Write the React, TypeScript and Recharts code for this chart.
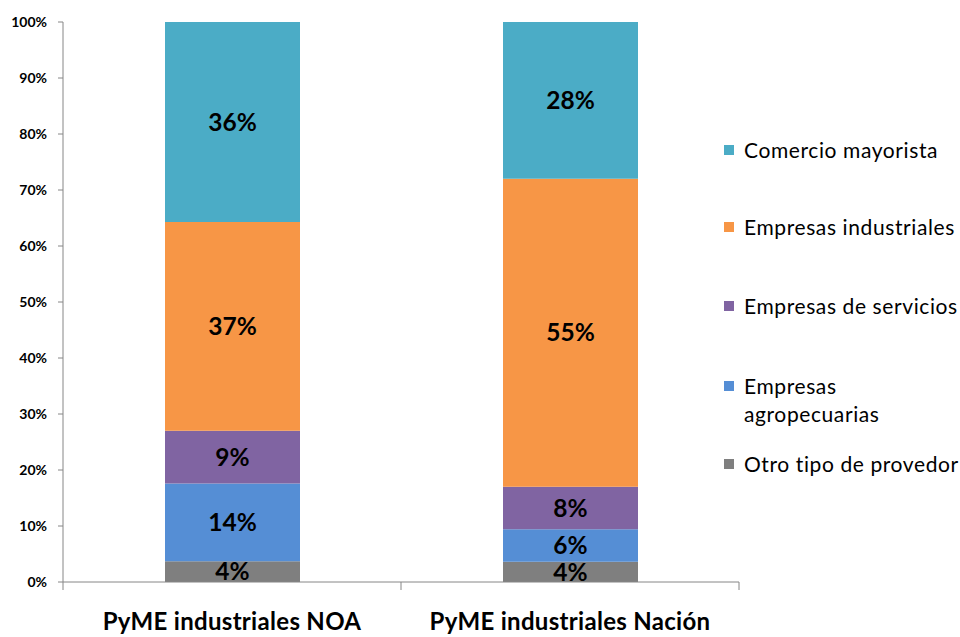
import { BarChart, Bar, XAxis, YAxis, Legend, LabelList } from 'recharts'

const categories = ['PyME industriales NOA', 'PyME industriales Nación']
const seriesKeys = ['otro', 'agro', 'servicios', 'industriales', 'comercio']
const seriesNames = [
    'Otro tipo de provedor',
    'Empresas agropecuarias',
    'Empresas de servicios',
    'Empresas industriales',
    'Comercio mayorista',
]
const otro = [3.7, 3.6]
const agro = [13.9, 5.8]
const servicios = [9.4, 7.6]
const industriales = [37.3, 55.0]
const comercio = [35.7, 28.0]
const yTicks = [0, 0.1, 0.2, 0.3, 0.4, 0.5, 0.6, 0.7, 0.8, 0.9, 1]

const colors = ['#7f7f7f', '#558ed5', '#8064a2', '#f79646', '#4bacc6']
const font = 'Lato, "Open Sans", sans-serif'
const axisColor = '#868686'
const legendTops = [0, 77, 156, 236, 314]

const data = categories.map((name, i) => ({
    name,
    otro: otro[i],
    agro: agro[i],
    servicios: servicios[i],
    industriales: industriales[i],
    comercio: comercio[i],
}))

const CategoryTick = (props: any) => {
    const { x, y, payload, index, visibleTicksCount, width } = props
    const half = (width || 676) / (visibleTicksCount || 2) / 2
    return (
        <g>
            <line x1={x - half} y1={y} x2={x - half} y2={y + 8} stroke={axisColor} />
            {index === visibleTicksCount - 1 &&
                <line x1={x + half} y1={y} x2={x + half} y2={y + 8} stroke={axisColor} />}
            <text x={x} y={y + 48} textAnchor='middle' fill='#000'
                style={{ fontFamily: font, fontSize: 24, fontWeight: 'bold', letterSpacing: 0.3 }}>
                {payload.value}
            </text>
        </g>
    )
}

// top of the legend = top of the stack
const LegendBox = ({ payload }: any) => {
    const items = [...(payload || [])].sort((a: any, b: any) => seriesNames.indexOf(b.value) - seriesNames.indexOf(a.value))
    return (
        <div style={{ position: 'relative', width: 236, height: 360, fontFamily: font }}>
            {items.map((p: any, i: number) => (
                <div key={p.value} style={{ position: 'absolute', left: 0, top: legendTops[i], display: 'flex', alignItems: 'flex-start' }}>
                    <span style={{ display: 'inline-block', width: 10, height: 10, background: p.color, marginTop: 9, marginRight: 10, flexShrink: 0 }} />
                    <span style={{ width: 216, fontSize: 21, letterSpacing: 0.6, lineHeight: '28px', color: '#000' }}>{p.value}</span>
                </div>
            ))}
        </div>
    )
}

export default function App() {
    return (
        <div style={{ position: 'absolute', left: 0, top: 0, background: '#fff' }}>
            <BarChart
                width={960}
                height={637}
                data={data}
                stackOffset='expand'
                margin={{ top: 22, right: 221, bottom: 0, left: 0 }}
            >
                <YAxis
                    type='number'
                    domain={[0, 1]}
                    ticks={yTicks}
                    interval={0}
                    width={63}
                    tickSize={5}
                    tickMargin={11}
                    axisLine={{ stroke: axisColor }}
                    tickLine={{ stroke: axisColor }}
                    tickFormatter={(v) => `${Math.round(v * 100)}%`}
                    tick={{ fill: '#000', fontSize: 14, fontWeight: 'bold', fontFamily: font }}
                />
                <XAxis
                    dataKey='name'
                    height={55}
                    tickSize={0}
                    tickMargin={0}
                    tickLine={false}
                    axisLine={{ stroke: axisColor }}
                    tick={<CategoryTick />}
                    interval={0}
                />
                <Legend
                    layout='horizontal'
                    verticalAlign='middle'
                    align='center'
                    content={<LegendBox />}
                    wrapperStyle={{ left: 724, top: 136, width: 236 }}
                />
                {seriesKeys.map((k, i) =>
                    <Bar key={k} dataKey={k} name={seriesNames[i]} stackId='a' fill={colors[i]} barSize={135} isAnimationActive={false}>
                        <LabelList
                            dataKey={k}
                            position='center'
                            formatter={(v: any) => `${Math.round(v)}%`}
                            style={{ fill: '#000', fontSize: 24.5, fontWeight: 'bold', fontFamily: font }}
                        />
                    </Bar>
                )}
            </BarChart>
        </div>
    )
}
